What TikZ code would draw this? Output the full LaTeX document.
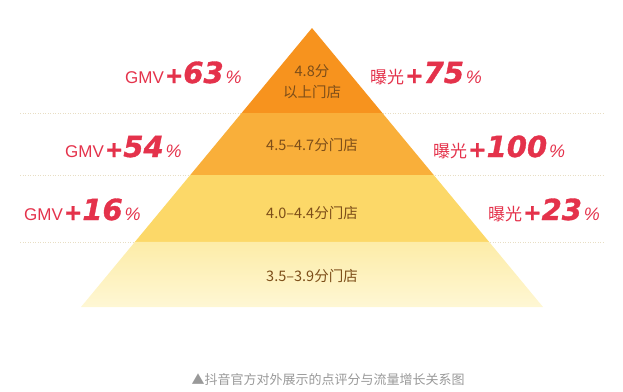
\documentclass[tikz,border=0pt]{standalone}
\usepackage{fontspec}
\setmainfont{Noto Sans CJK SC}
\newfontfamily\latinfont{Liberation Sans}
\newfontfamily\heavyfont[FakeBold=1.2]{DejaVu Sans}
\usetikzlibrary{calc}
\usepackage{xcolor}

\definecolor{tierone}{RGB}{247,147,30}
\definecolor{tiertwo}{RGB}{249,175,58}
\definecolor{tierthree}{RGB}{252,216,104}
\definecolor{tierfourtop}{RGB}{253,236,168}
\definecolor{tierfourbot}{RGB}{254,247,212}
\definecolor{gainred}{RGB}{228,50,75}
\definecolor{tiertext}{RGB}{125,78,25}
\definecolor{ruleline}{RGB}{232,222,196}

% growth label: prefix, number
\newcommand{\growth}[2]{#1\hspace{1pt}{\heavyfont\bfseries\itshape\fontsize{22}{22}\selectfont+\fontsize{29}{29}\selectfont#2}\hspace{2pt}{\latinfont\itshape\fontsize{18}{18}\selectfont\%}}

\begin{document}
\begin{tikzpicture}[
    x=1pt, y=-1pt,
    gain/.style={text=gainred, inner sep=0pt, font=\fontsize{17}{17}\selectfont},
    tierlabel/.style={text=tiertext, align=center, font=\fontsize{14.5}{21}\selectfont},
    divider/.style={ruleline, line width=0.8pt, dash pattern=on 1pt off 1.5pt}
]
    \useasboundingbox (0,0) rectangle (623,391);

    % dotted dividers behind the pyramid
    \draw[divider] (20,113) -- (605,113);
    \draw[divider] (20,175) -- (605,175);
    \draw[divider] (20,242) -- (605,242);

    % pyramid corners
    \coordinate (top) at (312,28);
    \coordinate (bl) at (81,307);
    \coordinate (br) at (543,307);
    \coordinate (l1) at ($(top)!0.3047!(bl)$);
    \coordinate (r1) at ($(top)!0.3047!(br)$);
    \coordinate (l2) at ($(top)!0.5269!(bl)$);
    \coordinate (r2) at ($(top)!0.5269!(br)$);
    \coordinate (l3) at ($(top)!0.7670!(bl)$);
    \coordinate (r3) at ($(top)!0.7670!(br)$);

    % tiers, top to bottom
    \fill[tierone] (top) -- (r1) -- (l1) -- cycle;
    \fill[tiertwo] (l1) -- (r1) -- (r2) -- (l2) -- cycle;
    \fill[tierthree] (l2) -- (r2) -- (r3) -- (l3) -- cycle;
    \shade[top color=tierfourtop, bottom color=tierfourbot] (l3) -- (r3) -- (br) -- (bl) -- cycle;

    % tier texts
    \node[tierlabel] (t1) at (312,82) {4.8分\\以上门店};
    \node[tierlabel] (t2) at (312,145) {4.5–4.7分门店};
    \node[tierlabel] (t3) at (312,213) {4.0–4.4分门店};
    \node[tierlabel] (t4) at (312,276) {3.5–3.9分门店};

    % GMV side
    \node[gain, anchor=base west] (g1) at (125,83) {\growth{{\latinfont GMV}}{63}};
    \node[gain, anchor=base west] (g2) at (65,157) {\growth{{\latinfont GMV}}{54}};
    \node[gain, anchor=base west] (g3) at (24,220) {\growth{{\latinfont GMV}}{16}};

    % exposure side
    \node[gain, anchor=base west] (e1) at (370,83) {\growth{曝光}{75}};
    \node[gain, anchor=base west] (e2) at (433,157) {\growth{曝光}{100}};
    \node[gain, anchor=base west] (e3) at (488,220) {\growth{曝光}{23}};

    \node[text=black!40, font=\fontsize{13}{13}\selectfont] (caption) at (328,380) {▲抖音官方对外展示的点评分与流量增长关系图};
\end{tikzpicture}
\end{document}
